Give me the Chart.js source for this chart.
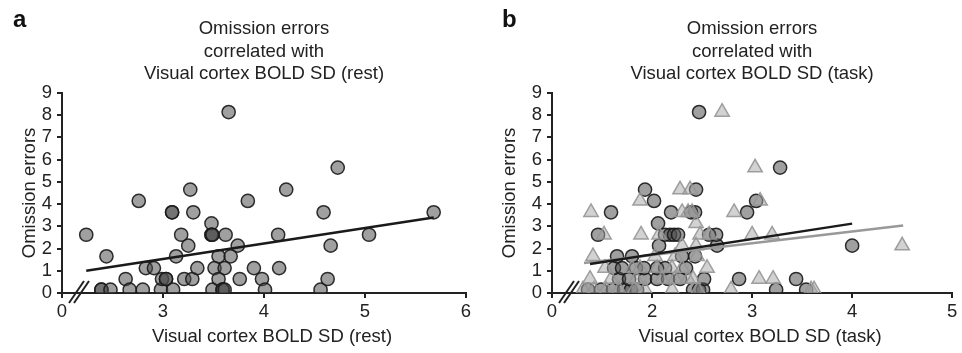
<!DOCTYPE html>
<html>
<head>
<meta charset="utf-8">
<script src="https://cdn.jsdelivr.net/npm/chart.js@4.4.1/dist/chart.umd.min.js"></script>
<style>
  body { margin: 0; background: #fff; }
  #wrap { position: relative; width: 962px; height: 353px; }
  canvas { position: absolute; top: 0; }
</style>
</head>
<body>
<div id="wrap">
  <canvas id="restChart" width="481" height="353" style="left:0"></canvas>
  <canvas id="taskChart" width="481" height="353" style="left:481px"></canvas>
</div>
<script>
// Panel a: omission errors vs visual cortex BOLD SD at rest
const restX = [2.24, 2.44, 2.39, 2.39, 2.48, 2.63, 2.67, 2.76, 2.80, 2.83, 2.91, 2.98, 2.99, 3.03, 3.03,
               3.09, 3.09, 3.10, 3.13, 3.18, 3.21, 3.25, 3.27, 3.29, 3.30, 3.34, 3.48, 3.48, 3.48, 3.49,
               3.49, 3.51, 3.55, 3.55, 3.59, 3.59, 3.61, 3.61, 3.62, 3.65, 3.67, 3.74, 3.76, 3.84, 3.90,
               3.98, 4.01, 4.14, 4.15, 4.22, 4.56, 4.59, 4.63, 4.66, 4.73, 5.04, 5.68];
const restY = [2.62, 1.65, 0.15, 0.15, 0.15, 0.63, 0.15, 4.14, 0.15, 1.12, 1.12, 0.15, 0.63, 0.63, 0.63,
               3.63, 3.63, 0.15, 1.65, 2.62, 0.63, 2.13, 4.65, 0.63, 3.63, 1.12, 3.13, 2.62, 2.62, 2.62,
               0.15, 1.12, 1.65, 0.63, 0.15, 0.15, 0.15, 1.12, 2.62, 8.14, 1.65, 2.13, 0.63, 4.14, 1.12,
               0.63, 0.15, 2.62, 1.12, 4.65, 0.15, 3.63, 0.63, 2.13, 5.64, 2.62, 3.63];
const restFitX = [2.24, 5.68];
const restFitY = [1.00, 3.40];
const restTicks = [2, 3, 4, 5, 6];
const restTickText = ['0', '3', '4', '5', '6'];

// Panel b: same errors vs BOLD SD during task (circles and triangles)
const taskCircleX = [1.36, 1.49, 1.61, 1.72, 1.79, 1.85, 2.41, 2.47, 2.51, 3.24, 3.54,
                     1.67, 1.77, 1.93, 2.05, 2.16, 2.28, 2.52, 2.87, 3.44,
                     1.62, 1.70, 1.84, 1.92, 2.05, 2.13, 2.34,
                     1.65, 1.80, 2.30, 2.43,
                     2.07, 2.65, 4.00,
                     1.46, 2.13, 2.18, 2.22, 2.26, 2.57, 2.64,
                     2.06,
                     1.59, 2.19, 2.39, 2.43, 2.95,
                     2.02, 3.04,
                     1.93, 2.44,
                     3.28,
                     2.47];
const taskCircleY = [0.15, 0.15, 0.15, 0.15, 0.15, 0.15, 0.15, 0.15, 0.15, 0.15, 0.15,
                     0.63, 0.63, 0.63, 0.63, 0.63, 0.63, 0.63, 0.63, 0.63,
                     1.12, 1.12, 1.12, 1.12, 1.12, 1.12, 1.12,
                     1.65, 1.65, 1.65, 1.65,
                     2.13, 2.13, 2.13,
                     2.62, 2.62, 2.62, 2.62, 2.62, 2.62, 2.62,
                     3.13,
                     3.63, 3.63, 3.63, 3.63, 3.63,
                     4.14, 4.14,
                     4.65, 4.65,
                     5.64,
                     8.14];
const taskTriX = [1.31, 1.42, 1.54, 1.67, 1.82, 1.93, 2.20, 2.46, 2.79, 3.59, 3.62,
                  1.38, 1.59, 1.84, 2.10, 2.23, 2.36, 2.41, 3.07, 3.21,
                  1.53, 1.80, 1.88, 2.05, 2.20, 2.30, 2.55,
                  1.41, 2.03, 2.23, 2.45,
                  2.30, 2.44, 4.50,
                  1.52, 1.89, 2.07, 2.48, 2.57, 3.00, 3.20,
                  2.44,
                  1.39, 2.30, 2.36, 2.40, 2.82,
                  1.88, 3.08,
                  2.28, 2.38,
                  3.03,
                  2.70];
const taskTriY = [0.15, 0.15, 0.15, 0.15, 0.15, 0.15, 0.15, 0.15, 0.15, 0.15, 0.15,
                  0.63, 0.63, 0.63, 0.63, 0.63, 0.63, 0.63, 0.63, 0.63,
                  1.12, 1.12, 1.12, 1.12, 1.12, 1.12, 1.12,
                  1.65, 1.65, 1.65, 1.65,
                  2.13, 2.13, 2.13,
                  2.62, 2.62, 2.62, 2.62, 2.62, 2.62, 2.62,
                  3.13,
                  3.63, 3.63, 3.63, 3.63, 3.63,
                  4.14, 4.14,
                  4.65, 4.65,
                  5.64,
                  8.14];
const taskCircleFitX = [1.38, 4.00];
const taskCircleFitY = [1.30, 3.12];
const taskTriFitX = [1.32, 4.51];
const taskTriFitY = [1.35, 3.04];
const taskTicks = [1, 2, 3, 4, 5];
const taskTickText = ['0', '2', '3', '4', '5'];

const FONT = '"Liberation Sans", Arial, sans-serif';
const INK = '#222';
const SIZE = 18.5;

function toPoints(xs, ys) {
    return xs.map((x, i) => ({ x: x, y: ys[i] }));
}

// "//" break on the x axis, the panel letter and the x axis title (sits a bit right of centre)
const axisBreak = {
    id: 'axisBreak',
    afterDraw(chart, args, opts) {
        const { ctx, chartArea } = chart;
        const x0 = chartArea.left, y0 = chartArea.bottom;
        ctx.save();
        ctx.strokeStyle = INK;
        ctx.lineWidth = 2;
        [[7, 22], [12, 27]].forEach(([a, b]) => {
            ctx.beginPath();
            ctx.moveTo(x0 + a, y0 + 10);
            ctx.lineTo(x0 + b, y0 - 12);
            ctx.stroke();
        });
        ctx.fillStyle = '#111';
        ctx.font = 'bold 24px ' + FONT;
        ctx.textBaseline = 'alphabetic';
        ctx.textAlign = 'left';
        ctx.fillText(opts.letter, opts.letterX, 27);

        ctx.fillStyle = INK;
        ctx.font = SIZE + 'px ' + FONT;
        ctx.textAlign = 'center';
        ctx.textBaseline = 'middle';
        ctx.fillText(opts.xTitle, (chartArea.left + chartArea.right) / 2 + 8, 337);
        ctx.restore();
    }
};

function makeOptions(p) {
    return {
        responsive: false,
        animation: false,
        layout: { padding: { left: 0, right: p.padRight, top: 0, bottom: 0 } },
        plugins: {
            legend: { display: false },
            tooltip: { enabled: false },
            title: {
                display: true,
                fullSize: false,
                text: ['Omission errors', 'correlated with', p.title],
                color: INK,
                font: { family: FONT, size: SIZE, weight: 'normal', lineHeight: 1.22 },
                padding: { top: 17.7, bottom: 7.5 }
            },
            axisBreak: { letter: p.letter, letterX: p.letterX, xTitle: p.xTitle }
        },
        scales: {
            x: {
                type: 'linear',
                min: p.ticks[0],
                max: p.ticks[p.ticks.length - 1],
                afterFit: (s) => { s.height = 60; },
                afterBuildTicks: (s) => { s.ticks = p.ticks.map(v => ({ value: v })); },
                ticks: {
                    color: INK,
                    padding: 3,
                    autoSkip: false,
                    maxRotation: 0,
                    font: { family: FONT, size: SIZE },
                    callback: (v) => p.tickText[p.ticks.indexOf(v)]
                },
                grid: { drawOnChartArea: false, drawTicks: true, tickLength: 5, color: INK, lineWidth: 2 },
                border: { color: INK, width: 2 }
            },
            y: {
                min: 0,
                max: 9,
                afterFit: (s) => { s.width = p.yWidth; },
                ticks: { stepSize: 1, autoSkip: false, color: INK, padding: 5, font: { family: FONT, size: SIZE } },
                grid: { drawOnChartArea: false, drawTicks: true, tickLength: 5, color: INK, lineWidth: 2 },
                border: { color: INK, width: 2 },
                title: {
                    display: true,
                    text: 'Omission errors',
                    color: INK,
                    font: { family: FONT, size: SIZE },
                    padding: { top: p.yTitlePad, bottom: 0 }
                }
            }
        }
    };
}

const circleStyle = {
    pointRadius: 6.6,
    pointHoverRadius: 6.6,
    pointBorderWidth: 1.5,
    pointBackgroundColor: 'rgba(75, 75, 75, 0.53)',
    pointBorderColor: 'rgba(25, 25, 25, 0.9)'
};

new Chart(document.getElementById('restChart'), {
    type: 'scatter',
    data: {
        datasets: [
            {
                data: toPoints(restFitX, restFitY),
                showLine: true,
                borderColor: '#1a1a1a',
                borderWidth: 2.5,
                pointRadius: 0
            },
            Object.assign({ data: toPoints(restX, restY) }, circleStyle)
        ]
    },
    options: makeOptions({
        ticks: restTicks, tickText: restTickText,
        title: 'Visual cortex BOLD SD (rest)', xTitle: 'Visual cortex BOLD SD (rest)',
        yWidth: 62, padRight: 15, yTitlePad: 19, letter: 'a', letterX: 13
    }),
    plugins: [axisBreak]
});

new Chart(document.getElementById('taskChart'), {
    type: 'scatter',
    data: {
        datasets: [
            {
                data: toPoints(taskCircleFitX, taskCircleFitY),
                showLine: true,
                borderColor: '#1a1a1a',
                borderWidth: 2.5,
                pointRadius: 0
            },
            {
                data: toPoints(taskTriFitX, taskTriFitY),
                showLine: true,
                borderColor: '#999',
                borderWidth: 2.5,
                pointRadius: 0
            },
            {
                data: toPoints(taskTriX, taskTriY),
                pointStyle: 'triangle',
                pointRadius: 8.3,
                pointHoverRadius: 8.3,
                pointBorderWidth: 1.5,
                pointBackgroundColor: 'rgba(165, 165, 165, 0.5)',
                pointBorderColor: 'rgba(150, 150, 150, 0.9)'
            },
            Object.assign({ data: toPoints(taskCircleX, taskCircleY) }, circleStyle)
        ]
    },
    options: makeOptions({
        ticks: taskTicks, tickText: taskTickText,
        title: 'Visual cortex BOLD SD (task)', xTitle: 'Visual cortex BOLD SD (task)',
        yWidth: 71, padRight: 4, yTitlePad: 18, letter: 'b', letterX: 21
    }),
    plugins: [axisBreak]
});
</script>
</body>
</html>
